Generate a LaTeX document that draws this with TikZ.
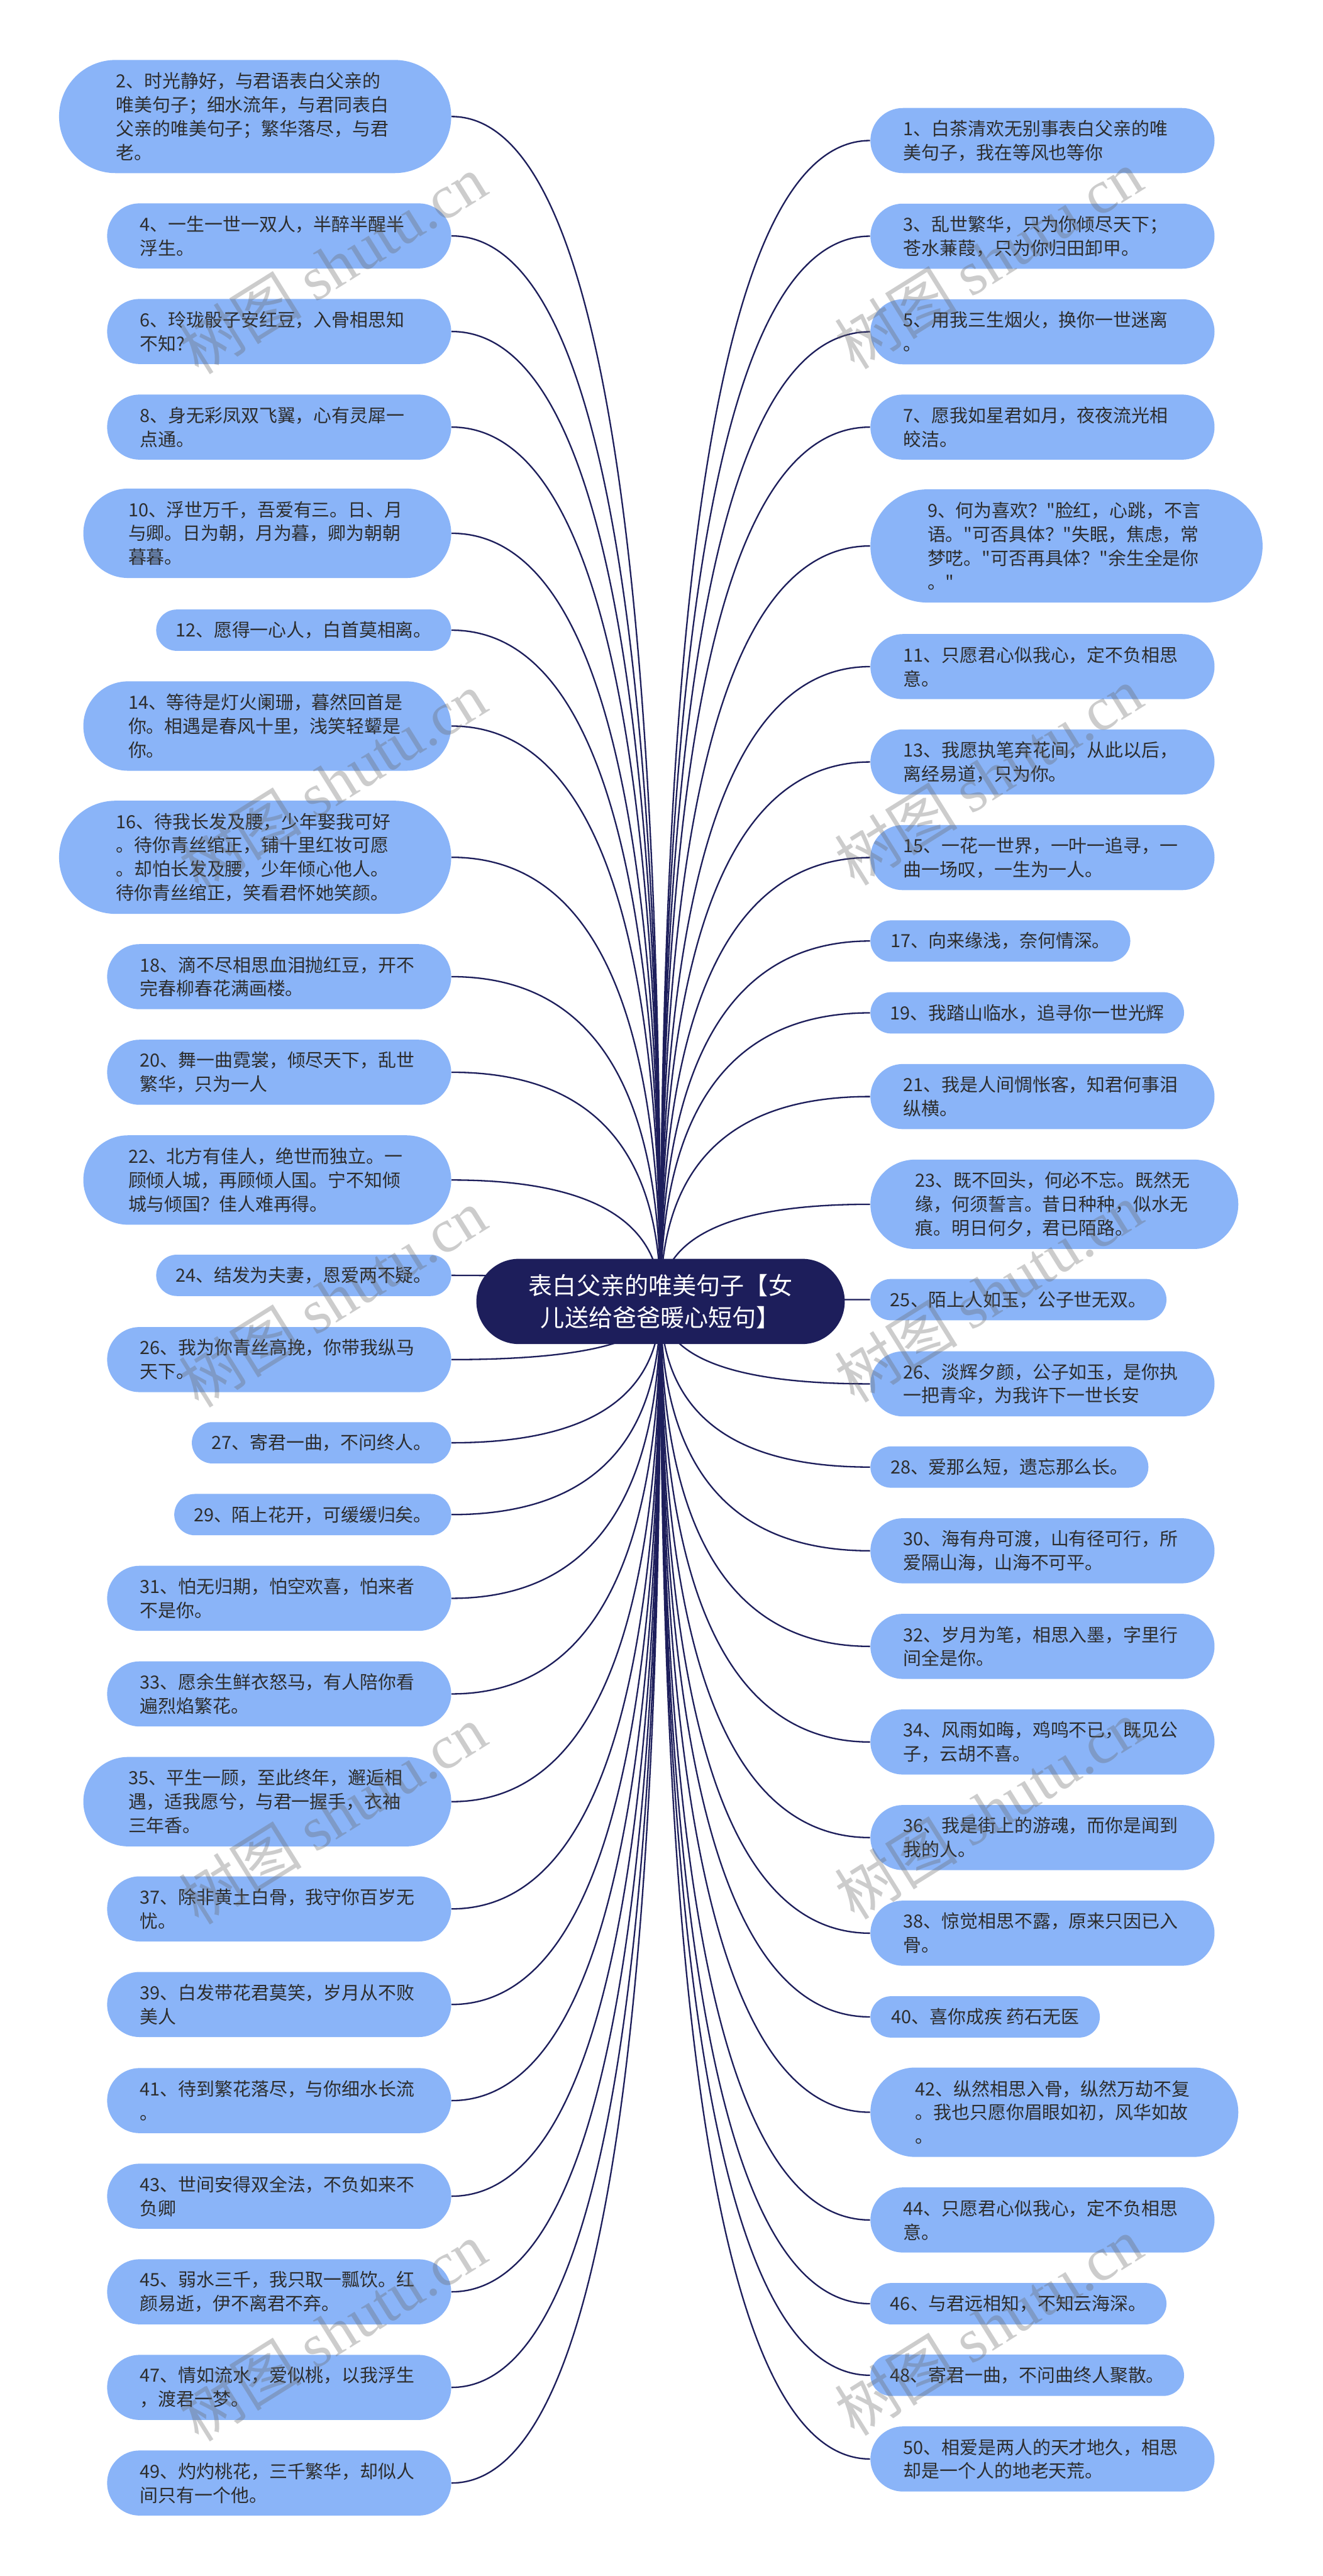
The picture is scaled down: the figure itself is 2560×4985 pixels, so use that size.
\documentclass[tikz,border=0pt]{standalone}
\usepackage{fontspec}
\newfontfamily\cjk{Noto Sans CJK SC}
\newfontfamily\wmlatin{Liberation Serif}
\usetikzlibrary{calc}
\pgfdeclarelayer{paper}
\pgfdeclarelayer{edges}
\pgfsetlayers{paper,edges,main}

\begin{document}
\begin{tikzpicture}[x=0.1mm, y=-0.1mm,
  leaf/.style={fill=leafblue, text=leaftext, inner sep=0pt,
    font=\cjk\fontsize{10}{13.1}\selectfont},
  oneline/.style={leaf, minimum height=8mm, rounded corners=4mm},
  twoline/.style={leaf, align=left, text width=53.8mm, minimum width=66.6mm,
    minimum height=12.6mm, rounded corners=6.3mm},
  threeline/.style={leaf, align=left, text width=53.8mm, minimum width=71.2mm,
    minimum height=17.3mm, rounded corners=8.65mm},
  fourline/.style={leaf, align=left, text width=53.8mm, minimum width=75.9mm,
    minimum height=21.9mm, rounded corners=10.95mm},
  west side/.style={anchor=east},
  east side/.style={anchor=west},
  root/.style={fill=rootnavy, text=white, align=center, inner sep=0pt,
    minimum width=71.3mm, minimum height=16.5mm, rounded corners=8.25mm,
    font=\cjk\fontsize{13.2}{17.9}\selectfont},
  link/.style={draw=rootnavy, line width=0.8pt,
    to path={.. controls ($(\tikztostart)!0.667!(\tikztostart |- \tikztotarget)$)
      and ($(\tikztotarget)!0.667!(\tikztostart |- \tikztotarget)$) .. (\tikztotarget)}},
  wmtext/.style={rotate=32, anchor=west, text=black!60, text opacity=0.33,
    font=\cjk\fontsize{34}{34}\selectfont}]
  \definecolor{leafblue}{RGB}{138,180,248}
  \definecolor{leaftext}{RGB}{45,45,45}
  \definecolor{rootnavy}{RGB}{29,30,91}

  \begin{pgfonlayer}{paper}
    \fill[white] (0,0) rectangle (2560,4985);
  \end{pgfonlayer}
  \useasboundingbox (0,0) rectangle (2560,4985);

  \node[root] (root) at (1278.5,2518.5) {表白父亲的唯美句子【女\\儿送给爸爸暖心短句】};

  % left column
  \node[fourline, west side] (l2) at (874,225.5) {2、时光静好，与君语表白父亲的\\唯美句子；细水流年，与君同表白\\父亲的唯美句子；繁华落尽，与君\\老。};
  \node[twoline, west side] (l4) at (874,456.5) {4、一生一世一双人，半醉半醒半\\浮生。};
  \node[twoline, west side] (l6) at (874,641.5) {6、玲珑骰子安红豆，入骨相思知\\不知?};
  \node[twoline, west side] (l8) at (874,826.5) {8、身无彩凤双飞翼，心有灵犀一\\点通。};
  \node[threeline, west side] (l10) at (874,1032) {10、浮世万千，吾爱有三。日、月\\与卿。日为朝，月为暮，卿为朝朝\\暮暮。};
  \node[oneline, west side, minimum width=57.1mm] (l12) at (874,1219.5) {12、愿得一心人，白首莫相离。};
  \node[threeline, west side] (l14) at (874,1405) {14、等待是灯火阑珊，暮然回首是\\你。相遇是春风十里，浅笑轻颦是\\你。};
  \node[fourline, west side] (l16) at (874,1659) {16、待我长发及腰，少年娶我可好\\。待你青丝绾正，铺十里红妆可愿\\。却怕长发及腰，少年倾心他人。\\待你青丝绾正，笑看君怀她笑颜。};
  \node[twoline, west side] (l18) at (874,1890) {18、滴不尽相思血泪抛红豆，开不\\完春柳春花满画楼。};
  \node[twoline, west side] (l20) at (874,2075) {20、舞一曲霓裳，倾尽天下，乱世\\繁华，只为一人};
  \node[threeline, west side] (l22) at (874,2283.5) {22、北方有佳人，绝世而独立。一\\顾倾人城，再顾倾人国。宁不知倾\\城与倾国？佳人难再得。};
  \node[oneline, west side, minimum width=57.1mm] (l24) at (874,2468) {24、结发为夫妻，恩爱两不疑。};
  \node[twoline, west side] (l26) at (874,2631) {26、我为你青丝高挽，你带我纵马\\天下。};
  \node[oneline, west side, minimum width=50.2mm] (l27) at (874,2792) {27、寄君一曲，不问终人。};
  \node[oneline, west side, minimum width=53.6mm] (l29) at (874,2931) {29、陌上花开，可缓缓归矣。};
  \node[twoline, west side] (l31) at (874,3093) {31、怕无归期，怕空欢喜，怕来者\\不是你。};
  \node[twoline, west side] (l33) at (874,3278) {33、愿余生鲜衣怒马，有人陪你看\\遍烈焰繁花。};
  \node[threeline, west side] (l35) at (874,3486.5) {35、平生一顾，至此终年，邂逅相\\遇，适我愿兮，与君一握手，衣袖\\三年香。};
  \node[twoline, west side] (l37) at (874,3694) {37、除非黄土白骨，我守你百岁无\\忧。};
  \node[twoline, west side] (l39) at (874,3879) {39、白发带花君莫笑，岁月从不败\\美人};
  \node[twoline, west side] (l41) at (874,4065) {41、待到繁花落尽，与你细水长流\\。};
  \node[twoline, west side] (l43) at (874,4250) {43、世间安得双全法，不负如来不\\负卿};
  \node[twoline, west side] (l45) at (874,4435) {45、弱水三千，我只取一瓢饮。红\\颜易逝，伊不离君不弃。};
  \node[twoline, west side] (l47) at (874,4620) {47、情如流水，爱似桃，以我浮生\\，渡君一梦。};
  \node[twoline, west side] (l49) at (874,4805) {49、灼灼桃花，三千繁华，却似人\\间只有一个他。};

  % right column
  \node[twoline, east side] (r1) at (1684,272) {1、白茶清欢无别事表白父亲的唯\\美句子，我在等风也等你};
  \node[twoline, east side] (r3) at (1684,457) {3、乱世繁华，只为你倾尽天下；\\苍水蒹葭，只为你归田卸甲。};
  \node[twoline, east side] (r5) at (1684,642) {5、用我三生烟火，换你一世迷离\\。};
  \node[twoline, east side] (r7) at (1684,826.5) {7、愿我如星君如月，夜夜流光相\\皎洁。};
  \node[fourline, east side] (r9) at (1684,1056.5) {9、何为喜欢？"脸红，心跳，不言\\语。"可否具体？"失眠，焦虑，常\\梦呓。"可否再具体？"余生全是你\\。"};
  \node[twoline, east side] (r11) at (1684,1290) {11、只愿君心似我心，定不负相思\\意。};
  \node[twoline, east side] (r13) at (1684,1474.5) {13、我愿执笔弃花间，从此以后，\\离经易道，只为你。};
  \node[twoline, east side] (r15) at (1684,1659.5) {15、一花一世界，一叶一追寻，一\\曲一场叹，一生为一人。};
  \node[oneline, east side, minimum width=50.3mm] (r17) at (1684,1821) {17、向来缘浅，奈何情深。};
  \node[oneline, east side, minimum width=60.7mm] (r19) at (1684,1960) {19、我踏山临水，追寻你一世光辉};
  \node[twoline, east side] (r21) at (1684,2122) {21、我是人间惆怅客，知君何事泪\\纵横。};
  \node[threeline, east side] (r23) at (1684,2330.5) {23、既不回头，何必不忘。既然无\\缘，何须誓言。昔日种种，似水无\\痕。明日何夕，君已陌路。};
  \node[oneline, east side, minimum width=57.3mm] (r25) at (1684,2515) {25、陌上人如玉，公子世无双。};
  \node[twoline, east side] (r26) at (1684,2678) {26、淡辉夕颜，公子如玉，是你执\\一把青伞，为我许下一世长安};
  \node[oneline, east side, minimum width=53.8mm] (r28) at (1684,2839) {28、爱那么短，遗忘那么长。};
  \node[twoline, east side] (r30) at (1684,3001) {30、海有舟可渡，山有径可行，所\\爱隔山海，山海不可平。};
  \node[twoline, east side] (r32) at (1684,3186) {32、岁月为笔，相思入墨，字里行\\间全是你。};
  \node[twoline, east side] (r34) at (1684,3371) {34、风雨如晦，鸡鸣不已，既见公\\子，云胡不喜。};
  \node[twoline, east side] (r36) at (1684,3556) {36、我是街上的游魂，而你是闻到\\我的人。};
  \node[twoline, east side] (r38) at (1684,3741) {38、惊觉相思不露，原来只因已入\\骨。};
  \node[oneline, east side, minimum width=44.4mm] (r40) at (1684,3903) {40、喜你成疾 药石无医};
  \node[threeline, east side] (r42) at (1684,4087.5) {42、纵然相思入骨，纵然万劫不复\\。我也只愿你眉眼如初，风华如故\\。};
  \node[twoline, east side] (r44) at (1684,4296) {44、只愿君心似我心，定不负相思\\意。};
  \node[oneline, east side, minimum width=57.3mm] (r46) at (1684,4458) {46、与君远相知，不知云海深。};
  \node[oneline, east side, minimum width=60.7mm] (r48) at (1684,4596.5) {48、寄君一曲，不问曲终人聚散。};
  \node[twoline, east side] (r50) at (1684,4758.5) {50、相爱是两人的天才地久，相思\\却是一个人的地老天荒。};

  \begin{pgfonlayer}{edges}
    \draw[link] (root.center) to (l2.east);
    \draw[link] (root.center) to (l4.east);
    \draw[link] (root.center) to (l6.east);
    \draw[link] (root.center) to (l8.east);
    \draw[link] (root.center) to (l10.east);
    \draw[link] (root.center) to (l12.east);
    \draw[link] (root.center) to (l14.east);
    \draw[link] (root.center) to (l16.east);
    \draw[link] (root.center) to (l18.east);
    \draw[link] (root.center) to (l20.east);
    \draw[link] (root.center) to (l22.east);
    \draw[link] (root.center) to (l24.east);
    \draw[link] (root.center) to (l26.east);
    \draw[link] (root.center) to (l27.east);
    \draw[link] (root.center) to (l29.east);
    \draw[link] (root.center) to (l31.east);
    \draw[link] (root.center) to (l33.east);
    \draw[link] (root.center) to (l35.east);
    \draw[link] (root.center) to (l37.east);
    \draw[link] (root.center) to (l39.east);
    \draw[link] (root.center) to (l41.east);
    \draw[link] (root.center) to (l43.east);
    \draw[link] (root.center) to (l45.east);
    \draw[link] (root.center) to (l47.east);
    \draw[link] (root.center) to (l49.east);
    \draw[link] (root.center) to (r1.west);
    \draw[link] (root.center) to (r3.west);
    \draw[link] (root.center) to (r5.west);
    \draw[link] (root.center) to (r7.west);
    \draw[link] (root.center) to (r9.west);
    \draw[link] (root.center) to (r11.west);
    \draw[link] (root.center) to (r13.west);
    \draw[link] (root.center) to (r15.west);
    \draw[link] (root.center) to (r17.west);
    \draw[link] (root.center) to (r19.west);
    \draw[link] (root.center) to (r21.west);
    \draw[link] (root.center) to (r23.west);
    \draw[link] (root.center) to (r25.west);
    \draw[link] (root.center) to (r26.west);
    \draw[link] (root.center) to (r28.west);
    \draw[link] (root.center) to (r30.west);
    \draw[link] (root.center) to (r32.west);
    \draw[link] (root.center) to (r34.west);
    \draw[link] (root.center) to (r36.west);
    \draw[link] (root.center) to (r38.west);
    \draw[link] (root.center) to (r40.west);
    \draw[link] (root.center) to (r42.west);
    \draw[link] (root.center) to (r44.west);
    \draw[link] (root.center) to (r46.west);
    \draw[link] (root.center) to (r48.west);
    \draw[link] (root.center) to (r50.west);
  \end{pgfonlayer}

  % watermark
  \node[wmtext] (wm1) at (350,695) {树图 {\wmlatin shutu.cn}};
  \node[wmtext] (wm2) at (350,1695) {树图 {\wmlatin shutu.cn}};
  \node[wmtext] (wm3) at (350,2695) {树图 {\wmlatin shutu.cn}};
  \node[wmtext] (wm4) at (350,3695) {树图 {\wmlatin shutu.cn}};
  \node[wmtext] (wm5) at (350,4695) {树图 {\wmlatin shutu.cn}};
  \node[wmtext] (wm6) at (1620,685) {树图 {\wmlatin shutu.cn}};
  \node[wmtext] (wm7) at (1620,1685) {树图 {\wmlatin shutu.cn}};
  \node[wmtext] (wm8) at (1620,2685) {树图 {\wmlatin shutu.cn}};
  \node[wmtext] (wm9) at (1620,3685) {树图 {\wmlatin shutu.cn}};
  \node[wmtext] (wm10) at (1620,4685) {树图 {\wmlatin shutu.cn}};
\end{tikzpicture}
\end{document}
